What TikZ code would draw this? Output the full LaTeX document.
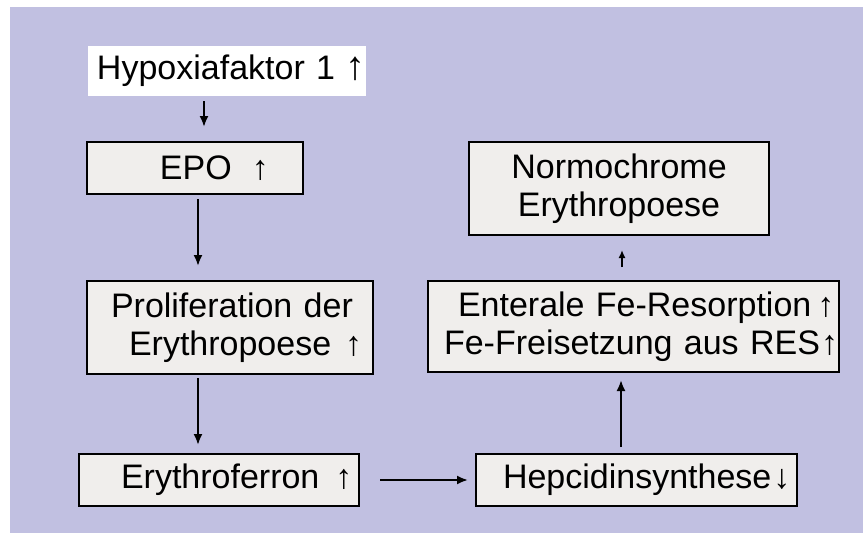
\documentclass[tikz,border=0pt]{standalone}
\usepackage{fontspec}
\setmainfont{Liberation Sans}
\usepackage{tikz}
\usetikzlibrary{arrows.meta,positioning}

\definecolor{lavbg}{RGB}{193,192,225}
\definecolor{boxfill}{RGB}{240,238,236}
\newcommand{\auf}[1][34]{{\fontsize{#1}{#1}\selectfont\bfseries ↑}}
\newcommand{\ab}[1][34]{{\fontsize{#1}{#1}\selectfont\bfseries ↓}}

\begin{document}
\begin{tikzpicture}[x=1pt, y=-1pt,
  box/.style={draw, line width=2pt, fill=boxfill, anchor=north west, align=left,
              inner xsep=0pt, inner ysep=0pt, font=\fontsize{34}{38}\selectfont},
  arr/.style={-{Latex[length=11pt,width=9pt]}, line width=2pt},
  kurz/.style={-{Latex[length=8pt,width=7pt]}, line width=1.8pt}]
\useasboundingbox (0,0) rectangle (863,533);
\fill[white] (0,0) rectangle (863,533);
\fill[lavbg] (10,7) rectangle (863,533);
% linke Spalte
\node[box, draw=none, fill=white, text width=278pt, minimum height=50pt] (hif) at (87,45)
  {\hspace*{9pt}Hypoxiafaktor 1\hspace{10pt}\auf[40]};
\node[box, text width=216pt, minimum height=52pt] (epo) at (86,141)
  {\hspace*{73pt}EPO\hspace{20pt}\auf};
\node[box, text width=286pt, minimum height=93pt] (prolif) at (86,280)
  {\hspace*{24pt}Proliferation der\\\hspace*{42pt}Erythropoese\hspace{14pt}\auf};
\node[box, text width=280pt, minimum height=52pt] (eryfer) at (78,453)
  {\hspace*{42pt}Erythroferron\hspace{16pt}\auf};
% rechte Spalte
\node[box, text width=321pt, minimum height=52pt] (hepc) at (475,453)
  {\hspace*{27pt}Hepcidinsynthese\hspace{2pt}\ab};
\node[box, text width=411pt, minimum height=91pt] (enteral) at (427,280)
  {\hspace*{30pt}Enterale Fe-Resorption\hspace{6pt}\auf\\\hspace*{16pt}Fe-Freisetzung aus RES\hspace{1pt}\auf};
\node[box, align=center, text width=300pt, minimum height=93pt] (normo) at (468,141)
  {Normochrome\\Erythropoese};
% Pfeile
\draw[arr, shorten <=4pt, shorten >=14pt] (204,0 |- hif.south) -- (204,0 |- epo.north);
\draw[arr, shorten <=4pt, shorten >=14pt] (198,0 |- epo.south) -- (198,0 |- prolif.north);
\draw[arr, shorten <=3pt, shorten >=8pt] (198,0 |- prolif.south) -- (198,0 |- eryfer.north);
\draw[arr, shorten <=20pt, shorten >=7pt] (eryfer.east) -- (hepc.west);
\draw[arr, shorten <=6pt, shorten >=7pt] (621,0 |- hepc.north) -- (621,0 |- enteral.south);
\draw[kurz, shorten <=13pt, shorten >=14pt] (622,0 |- enteral.north) -- (622,0 |- normo.south);
\end{tikzpicture}
\end{document}
